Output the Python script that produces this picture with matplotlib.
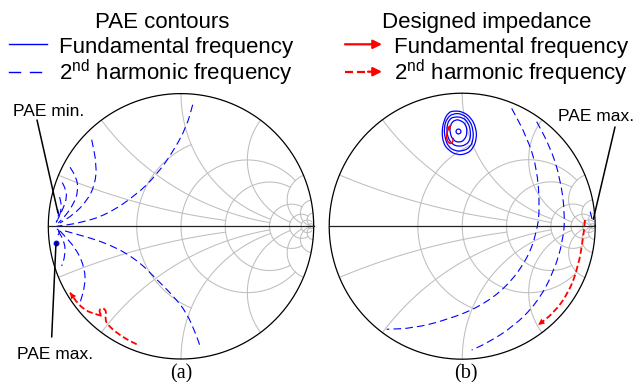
import numpy as np
import matplotlib
matplotlib.use("Agg")
import matplotlib.pyplot as plt
from matplotlib.path import Path
from matplotlib.patches import PathPatch

plt.rcParams['font.family'] = ['Liberation Sans', 'DejaVu Sans']
plt.rcParams['mathtext.fontset'] = 'custom'
plt.rcParams['mathtext.rm'] = 'Liberation Sans'
plt.rcParams['mathtext.it'] = 'Liberation Sans:italic'
plt.rcParams['lines.scale_dashes'] = False

# ---------------- Smith grid values ----------------
r_values = [0.5, 1, 2, 5, 10, 20, 50]
r_extent = [1, 5, 5, 10, 20, 50, np.inf]
x_values = [0.2, 0.5, 1, 2, 5, 10, 20]
x_extent = [2, 5, 5, 10, 20, 50, np.inf]

# ---------------- (a) 2nd harmonic PAE contours (reflection coeff. re, im) -------------
h2_a1 = [(0.088, 0.916), (0.043, 0.754), (-0.058, 0.565), (-0.183, 0.389), (-0.334, 0.238),
         (-0.56, 0.087), (-0.761, 0.025), (-0.937, 0.0)]
h2_a2 = [(-0.673, 0.653), (-0.635, 0.464), (-0.648, 0.313), (-0.711, 0.188), (-0.812, 0.087),
         (-0.912, 0.025)]
h2_a3 = [(-0.836, 0.445), (-0.786, 0.364), (-0.774, 0.264), (-0.812, 0.163), (-0.874, 0.075),
         (-0.925, 0.025)]
h2_a4 = [(-0.895, 0.33), (-0.87, 0.28), (-0.86, 0.22), (-0.885, 0.14), (-0.93, 0.05)]
h2_a5 = [(-0.915, 0.22), (-0.9, 0.16), (-0.91, 0.09), (-0.94, 0.03)]
h2_a6 = [(-0.93, 0.13), (-0.92, 0.08), (-0.94, 0.03)]
h2_b1 = [(-0.874, -0.035), (-0.56, -0.124), (-0.334, -0.249), (-0.183, -0.4), (-0.058, -0.525),
         (0.043, -0.651), (0.118, -0.827), (0.143, -0.902)]
h2_b2 = [(-0.912, -0.035), (-0.786, -0.173), (-0.723, -0.324), (-0.723, -0.45), (-0.761, -0.576)]
h2_b3 = [(-0.925, -0.035), (-0.874, -0.124), (-0.874, -0.224), (-0.899, -0.299)]
h2_b4 = [(-0.935, -0.02), (-0.91, -0.04), (-0.93, -0.07)]
pae_max_a = (-0.942, -0.124)
pae_min_a = (-0.927, 0.10)
design_h2_a = [(-0.334, -0.889), (-0.435, -0.839), (-0.548, -0.751), (-0.573, -0.701),
               (-0.56, -0.646), (-0.586, -0.613), (-0.616, -0.625), (-0.61, -0.663),
               (-0.58, -0.681), (-0.661, -0.656), (-0.711, -0.638), (-0.774, -0.588),
               (-0.836, -0.5)]

# ---------------- (b) ----------------
h2_c1 = [(0.372, 0.886), (0.485, 0.673), (0.56, 0.447), (0.585, 0.147), (0.56, -0.053),
         (0.485, -0.254), (0.335, -0.455), (0.134, -0.605), (-0.117, -0.705), (-0.368, -0.767),
         (-0.568, -0.775)]
h2_c2 = [(0.56, 0.786), (0.66, 0.598), (0.735, 0.372), (0.773, 0.097), (0.76, -0.104),
         (0.685, -0.354), (0.56, -0.58), (0.384, -0.756), (0.184, -0.88), (0.071, -0.931)]
h2_c3 = [(0.962, 0.11), (0.975, 0.06), (0.98, 0.03)]
fund_1 = [(-0.067, 0.868), (0.008, 0.861), (0.071, 0.811), (0.104, 0.736), (0.109, 0.661),
          (0.083, 0.586), (0.034, 0.543), (-0.041, 0.535), (-0.105, 0.573), (-0.142, 0.623),
          (-0.154, 0.711), (-0.137, 0.798), (-0.105, 0.853)]
fund_2 = [(-0.067, 0.849), (0.004, 0.844), (0.059, 0.793), (0.083, 0.723), (0.083, 0.648),
          (0.059, 0.593), (0.008, 0.565), (-0.054, 0.565), (-0.105, 0.598), (-0.129, 0.661),
          (-0.137, 0.736), (-0.117, 0.811)]
fund_3 = [(-0.062, 0.823), (0.004, 0.819), (0.046, 0.778), (0.064, 0.711), (0.059, 0.648),
          (0.029, 0.611), (-0.029, 0.598), (-0.079, 0.618), (-0.112, 0.673), (-0.117, 0.748),
          (-0.097, 0.804)]
fund_4 = [(-0.054, 0.804), (-0.004, 0.793), (0.029, 0.761), (0.038, 0.703), (0.021, 0.653),
          (-0.017, 0.628), (-0.067, 0.643), (-0.092, 0.698), (-0.092, 0.761)]
fund_opt = (-0.029, 0.718)
pae_max_b = (0.986, 0.052)
design_f_b = [(-0.067, 0.665), (-0.071, 0.628), (-0.097, 0.618), (-0.117, 0.653),
              (-0.117, 0.698), (-0.102, 0.736), (-0.086, 0.761)]
design_h2_b = [(0.923, 0.047), (0.911, -0.079), (0.873, -0.305), (0.798, -0.505),
               (0.685, -0.655), (0.572, -0.742)]

BLUE = '#0000FF'
RED = '#FF0000'
GRID = '#BEBEBE'
W, H = 638, 382


def gamma(z):
    return (z - 1) / (z + 1)


def smooth_path(pts, closed=False):
    p = np.asarray(pts, float)
    if closed:
        mids = (p + np.roll(p, -1, axis=0)) / 2
        verts = [mids[-1]]
        codes = [Path.MOVETO]
        for i in range(len(p)):
            verts += [p[i], mids[i]]
            codes += [Path.CURVE3, Path.CURVE3]
        return Path(verts, codes)
    if len(p) == 2:
        return Path(p, [Path.MOVETO, Path.LINETO])
    mids = (p[:-1] + p[1:]) / 2
    verts = [p[0], mids[0]]
    codes = [Path.MOVETO, Path.LINETO]
    for i in range(1, len(p) - 1):
        verts += [p[i], mids[i]]
        codes += [Path.CURVE3, Path.CURVE3]
    verts.append(p[-1])
    codes.append(Path.LINETO)
    return Path(verts, codes)


def draw_curve(ax, pts, color, lw, ls, closed=False, z=4):
    ax.add_patch(PathPatch(smooth_path(pts, closed), fill=False, edgecolor=color,
                           lw=lw, linestyle=ls, zorder=z, capstyle='butt'))


def arrow_head(ax, pts, color, size):
    ax.annotate('', xy=pts[-1], xytext=pts[-2],
                arrowprops=dict(arrowstyle='-|>', color=color, lw=0.01,
                                mutation_scale=size, shrinkA=0, shrinkB=0), zorder=6)


def draw_smith(ax):
    for r, xe in zip(r_values, r_extent):
        t = np.linspace(-np.arctan(xe), np.arctan(xe), 600)
        g = gamma(r + 1j * np.tan(t))
        ax.plot(g.real, g.imag, color=GRID, lw=0.75, zorder=1)
    for xv, re in zip(x_values, x_extent):
        t = np.linspace(0, np.arctan(re), 600)
        for s in (1, -1):
            g = gamma(np.tan(t) + 1j * s * xv)
            ax.plot(g.real, g.imag, color=GRID, lw=0.75, zorder=1)
    th = np.linspace(0, 2 * np.pi, 720)
    ax.plot(np.cos(th), np.sin(th), color='black', lw=0.9, zorder=3)
    ax.plot([-1, 1], [0, 0], color='#222222', lw=0.9, zorder=3)
    ax.axis('off')


fig = plt.figure(figsize=(W / 100, H / 100), dpi=100)
axL = fig.add_axes([0, 0, 319 / W, 1])
axR = fig.add_axes([319 / W, 0, 319 / W, 1])
cL, RL = (181.0, 226.3), 132.7
cR, RR = (462.2 - 319, 226.2), 133.0
axL.set_xlim(-cL[0] / RL, (319 - cL[0]) / RL)
axL.set_ylim((cL[1] - H) / RL, cL[1] / RL)
axR.set_xlim(-cR[0] / RR, (319 - cR[0]) / RR)
axR.set_ylim((cR[1] - H) / RR, cR[1] / RR)
for ax in (axL, axR):
    draw_smith(ax)

dash_b = (0, (5.5, 3.0))
dash_r = (0, (4.5, 2.2))

for c in (h2_a1, h2_a2, h2_a3, h2_a4, h2_a5, h2_a6, h2_b1, h2_b2, h2_b3, h2_b4):
    draw_curve(axL, c, BLUE, 0.8, dash_b)
axL.plot(*pae_max_a, 'o', color=BLUE, ms=3.2, zorder=5)
draw_curve(axL, design_h2_a, RED, 1.3, dash_r, z=5)
arrow_head(axL, design_h2_a, RED, 11)

for c in (h2_c1, h2_c2, h2_c3):
    draw_curve(axR, c, BLUE, 0.8, dash_b)
for c in (fund_1, fund_2, fund_3, fund_4):
    draw_curve(axR, c, BLUE, 0.9, '-', closed=True)
axR.plot(*fund_opt, 'o', mfc='none', mec=BLUE, ms=3.5, mew=0.9, zorder=5)
draw_curve(axR, design_f_b, RED, 1.1, '-', z=5)
arrow_head(axR, design_f_b, RED, 9)
draw_curve(axR, design_h2_b, RED, 1.3, dash_r, z=5)
arrow_head(axR, design_h2_b, RED, 11)

# ---------------- overlay (pixel coords) for legends / labels ----------------
ov = fig.add_axes([0, 0, 1, 1])
ov.set_xlim(0, W)
ov.set_ylim(H, 0)
ov.axis('off')
ov.patch.set_alpha(0)

fs = 16
ov.text(162, 27.6, 'PAE contours', fontsize=fs, ha='center', va='baseline')
ov.plot([9.3, 46.7], [44.3, 44.3], color=BLUE, lw=1.0)
ov.plot([9.3, 20], [71.7, 71.7], color=BLUE, lw=1.0)
ov.plot([30, 40.7], [71.7, 71.7], color=BLUE, lw=1.0)
ov.text(59.3, 53.2, 'Fundamental frequency', fontsize=fs, va='baseline')
ov.text(59.3, 79.9, r'2$^{\mathrm{nd}}$ harmonic frequency', fontsize=fs, va='baseline')

ov.text(486.7, 27.6, 'Designed impedance', fontsize=fs, ha='center', va='baseline')
ov.annotate('', xy=(382, 44.3), xytext=(345, 44.3),
            arrowprops=dict(arrowstyle='-|>', color=RED, lw=1.6, mutation_scale=13,
                            shrinkA=0, shrinkB=0))
ov.plot([345, 352.5], [71.7, 71.7], color=RED, lw=1.6, solid_capstyle='butt')
ov.plot([357, 364.5], [71.7, 71.7], color=RED, lw=1.6, solid_capstyle='butt')
ov.annotate('', xy=(382, 71.7), xytext=(368, 71.7),
            arrowprops=dict(arrowstyle='-|>', color=RED, lw=1.6, mutation_scale=13,
                            shrinkA=0, shrinkB=0))
ov.text(394, 53.2, 'Fundamental frequency', fontsize=fs, va='baseline')
ov.text(394, 79.9, r'2$^{\mathrm{nd}}$ harmonic frequency', fontsize=fs, va='baseline')

fs2 = 12.5
ov.text(13.3, 115.8, 'PAE min.', fontsize=fs2, va='baseline')
ov.text(16.7, 359.2, 'PAE max.', fontsize=fs2, va='baseline')
ov.text(558.3, 120.8, 'PAE max.', fontsize=fs2, va='baseline')
lk = dict(arrowstyle='-', color='black', lw=1.1, shrinkA=0, shrinkB=0)
ov.annotate('', xy=pae_min_a, xycoords=axL.transData, xytext=(37, 120), textcoords='data',
            arrowprops=lk)
ov.annotate('', xy=pae_max_a, xycoords=axL.transData, xytext=(51.7, 337), textcoords='data',
            arrowprops=lk)
ov.annotate('', xy=pae_max_b, xycoords=axR.transData, xytext=(615, 127), textcoords='data',
            arrowprops=lk)

ov.text(181.5, 378, '(a)', fontsize=14.5, ha='center', va='baseline', family='Liberation Serif')
ov.text(466, 378, '(b)', fontsize=14.5, ha='center', va='baseline', family='Liberation Serif')

fig.savefig('out.png', dpi=100)
